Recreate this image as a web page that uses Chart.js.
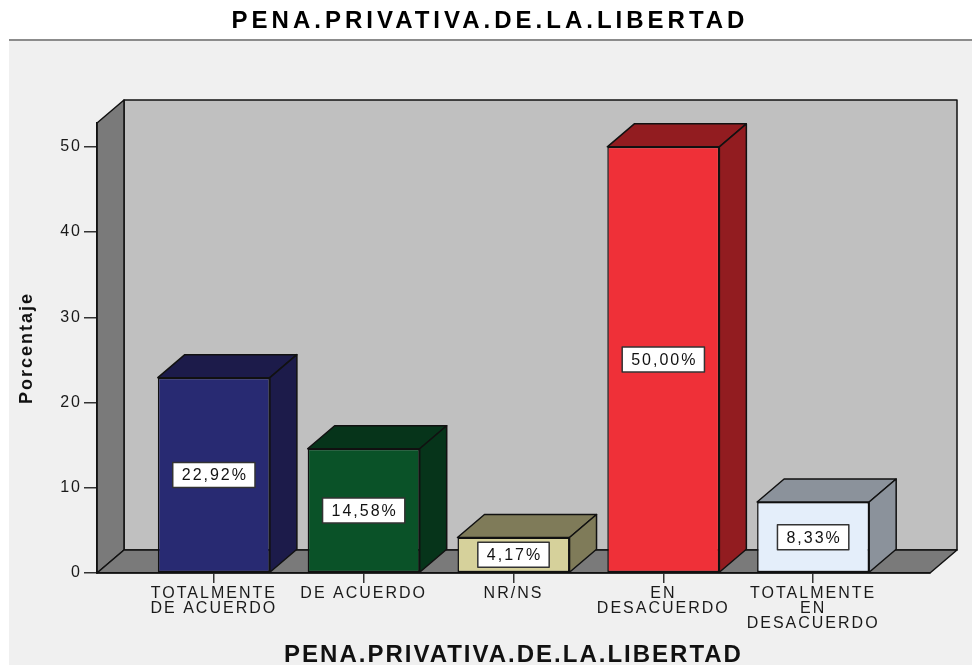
<!DOCTYPE html>
<html>
<head>
<meta charset="utf-8">
<title>PENA.PRIVATIVA.DE.LA.LIBERTAD</title>
<script src="https://cdn.jsdelivr.net/npm/chart.js@4.4.1/dist/chart.umd.min.js"></script>
<style>
  html, body { margin: 0; padding: 0; background: #fff; }
  #wrap { width: 972px; height: 666px; }
</style>
</head>
<body>
<div id="wrap"><canvas id="barChart" width="972" height="666"></canvas></div>
<script>
const chartTitle = 'PENA.PRIVATIVA.DE.LA.LIBERTAD';
const categories = [
  ['TOTALMENTE', 'DE ACUERDO'],
  ['DE ACUERDO'],
  ['NR/NS'],
  ['EN', 'DESACUERDO'],
  ['TOTALMENTE', 'EN', 'DESACUERDO']
];
const percentages = [22.92, 14.58, 4.17, 50.00, 8.33];
const yTicks = [0, 10, 20, 30, 40, 50];
const frontColors = ['#282a72', '#0a5228', '#d6d19b', '#ef3038', '#e4eefa'];
const shadeColors = ['#1c1b4a', '#06341a', '#7f7b59', '#921c20', '#8b929b'];

const FONT = "'Liberation Sans', Arial, sans-serif";
const SPACING = '2px';
const DX = 27, DY = -23;   // depth of the 3d effect

function poly(ctx, pts, fill) {
  ctx.beginPath();
  ctx.moveTo(pts[0][0], pts[0][1]);
  for (let i = 1; i < pts.length; i++) ctx.lineTo(pts[i][0], pts[i][1]);
  ctx.closePath();
  ctx.fillStyle = fill;
  ctx.fill();
  ctx.stroke();
}

// back wall, side wall, floor, and the bars' top/side faces + value boxes
const box3d = {
  id: 'box3d',
  beforeLayout(chart) {
    chart.ctx.letterSpacing = SPACING;
  },
  beforeDraw(chart) {
    const ctx = chart.ctx;
    const { left, right, top, bottom } = chart.chartArea;
    ctx.letterSpacing = SPACING;
    ctx.save();
    ctx.fillStyle = '#ffffff';
    ctx.fillRect(0, 0, chart.width, chart.height);
    ctx.fillStyle = '#f0f0f0';
    ctx.fillRect(9, 41, chart.width - 9, chart.height - 42);
    ctx.strokeStyle = '#8c8c8c';
    ctx.lineWidth = 2;
    ctx.beginPath();
    ctx.moveTo(9, 40);
    ctx.lineTo(chart.width, 40);
    ctx.stroke();

    ctx.letterSpacing = '4px';
    ctx.font = 'bold 24px ' + FONT;
    ctx.fillStyle = '#000';
    ctx.textAlign = 'center';
    ctx.textBaseline = 'middle';
    ctx.fillText(chartTitle, chart.width / 2 + 4, 21);

    ctx.lineWidth = 1.5;
    ctx.strokeStyle = '#111';
    ctx.lineJoin = 'round';
    poly(ctx, [[left + DX, top + DY], [right + DX, top + DY], [right + DX, bottom + DY], [left + DX, bottom + DY]], '#c0c0c0');
    poly(ctx, [[left, bottom], [left, top], [left + DX, top + DY], [left + DX, bottom + DY]], '#7a7a7a');
    poly(ctx, [[left, bottom], [right, bottom], [right + DX, bottom + DY], [left + DX, bottom + DY]], '#7a7a7a');
    ctx.restore();
  },
  afterDatasetsDraw(chart) {
    const ctx = chart.ctx;
    const meta = chart.getDatasetMeta(0);
    ctx.save();
    ctx.lineWidth = 1.5;
    ctx.strokeStyle = '#111';
    ctx.lineJoin = 'round';
    meta.data.forEach((bar, i) => {
      const { x, y, base, width } = bar.getProps(['x', 'y', 'base', 'width'], true);
      const l = x - width / 2, r = x + width / 2;
      poly(ctx, [[l, y], [l + DX, y + DY], [r + DX, y + DY], [r, y]], shadeColors[i]);
      poly(ctx, [[r, y], [r + DX, y + DY], [r + DX, base + DY], [r, base]], shadeColors[i]);
    });

    ctx.letterSpacing = SPACING;
    ctx.font = '16px ' + FONT;
    ctx.textAlign = 'center';
    ctx.textBaseline = 'middle';
    meta.data.forEach((bar, i) => {
      const { x, y, base } = bar.getProps(['x', 'y', 'base'], true);
      const text = percentages[i].toFixed(2).replace('.', ',') + '%';
      const cy = (y + base) / 2;
      const w = ctx.measureText(text).width + 16, h = 25;
      ctx.fillStyle = '#ffffff';
      ctx.fillRect(x - w / 2, cy - h / 2, w, h);
      ctx.strokeStyle = '#333';
      ctx.strokeRect(x - w / 2, cy - h / 2, w, h);
      ctx.fillStyle = '#111';
      ctx.fillText(text, x + 1, cy + 1);
    });
    ctx.restore();
  }
};

const ctx = document.getElementById('barChart').getContext('2d');

new Chart(ctx, {
  type: 'bar',
  data: {
    datasets: [{
      label: 'Porcentaje',
      data: percentages.map((v, i) => ({ x: i, y: v })),
      backgroundColor: frontColors,
      borderColor: '#111',
      borderWidth: 1.5,
      borderSkipped: false,
      barPercentage: 0.748,
      categoryPercentage: 1
    }]
  },
  options: {
    responsive: false,
    devicePixelRatio: 1,
    animation: false,
    layout: { padding: { top: 123, right: 42, left: 0, bottom: 0 } },
    plugins: {
      legend: { display: false },
      tooltip: { enabled: false }
    },
    scales: {
      x: {
        type: 'linear',
        min: -0.78,
        max: 4.78,
        offset: false,
        afterBuildTicks: s => { s.ticks = categories.map((c, i) => ({ value: i })); },
        afterFit: s => { s.height = 93; },
        ticks: {
          autoSkip: false,
          maxRotation: 0,
          minRotation: 0,
          color: '#1a1a1a',
          padding: 3,
          font: { family: FONT, size: 16, lineHeight: 0.94 },
          callback: v => categories[v]
        },
        grid: { offset: false, drawOnChartArea: false, tickLength: 10, color: '#333', lineWidth: 1.5 },
        border: { color: '#111', width: 1.5 },
        title: {
          display: true,
          text: chartTitle,
          color: '#111',
          font: { family: FONT, size: 24, weight: 'bold', lineHeight: 0.85 },
          padding: { top: 0, bottom: 0 }
        }
      },
      y: {
        min: 0,
        max: 52.8,
        afterBuildTicks: s => { s.ticks = yTicks.map(v => ({ value: v })); },
        afterFit: s => { s.width = 97; },
        ticks: { color: '#1a1a1a', padding: 2, font: { family: FONT, size: 16 } },
        grid: { drawOnChartArea: false, tickLength: 13, color: '#333', lineWidth: 1.5 },
        border: { color: '#111', width: 1.5 },
        title: {
          display: true,
          text: 'Porcentaje',
          color: '#111',
          font: { family: FONT, size: 18, weight: 'bold' },
          padding: { top: 16, bottom: 0 }
        }
      }
    }
  },
  plugins: [box3d]
});
</script>
</body>
</html>
